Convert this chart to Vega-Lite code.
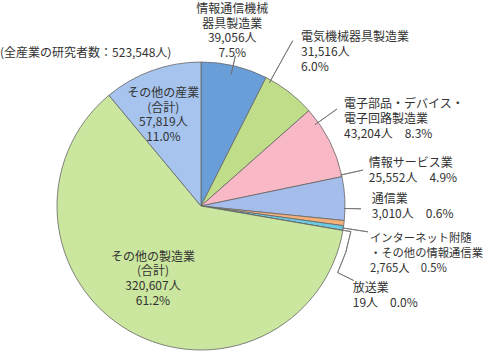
{
  "$schema": "https://vega.github.io/schema/vega-lite/v6.json",
  "width": 288,
  "height": 288,
  "autosize": {"type": "none"},
  "padding": {"left": 57, "top": 62, "right": 140, "bottom": 3},
  "background": "white",
  "title": {
    "text": "(全産業の研究者数：523,548人)",
    "anchor": "start",
    "frame": "group",
    "dx": -57,
    "dy": 62,
    "offset": 0,
    "baseline": "middle",
    "font": "Noto Sans CJK JP",
    "fontSize": 12,
    "fontWeight": "normal",
    "color": "#333333"
  },
  "config": {"view": {"stroke": null}},
  "data": {
    "values": [
      {"order": 0, "cat": "情報通信機械器具製造業", "value": 39056, "label": "情報通信機械\n器具製造業\n39,056人\n7.5%"},
      {"order": 1, "cat": "電気機械器具製造業", "value": 31516, "label": "電気機械器具製造業\n31,516人\n6.0%"},
      {"order": 2, "cat": "電子部品・デバイス・電子回路製造業", "value": 43204, "label": "電子部品・デバイス・\n電子回路製造業\n43,204人　8.3%"},
      {"order": 3, "cat": "情報サービス業", "value": 25552, "label": "情報サービス業\n25,552人　4.9%"},
      {"order": 4, "cat": "通信業", "value": 3010, "label": "通信業\n3,010人　0.6%"},
      {"order": 5, "cat": "インターネット附随・その他の情報通信業", "value": 2765, "label": "インターネット附随\n・その他の情報通信業\n2,765人　0.5%"},
      {"order": 6, "cat": "放送業", "value": 19, "label": "放送業\n19人　0.0%"},
      {"order": 7, "cat": "その他の製造業（合計）", "value": 320607, "label": "その他の製造業\n(合計)\n320,607人\n61.2%"},
      {"order": 8, "cat": "その他の産業（合計）", "value": 57819, "label": "その他の産業\n(合計)\n57,819人\n11.0%"}
    ]
  },
  "transform": [
    {"stack": "value", "groupby": [], "sort": [{"field": "order", "order": "ascending"}], "as": ["v0", "v1"]}
  ],
  "layer": [
    {
      "mark": {"type": "arc", "stroke": "#666666", "strokeWidth": 0.8},
      "encoding": {
        "theta": {"field": "v1", "type": "quantitative", "stack": null},
        "theta2": {"field": "v0"},
        "color": {
          "field": "cat",
          "type": "nominal",
          "legend": null,
          "scale": {
            "domain": ["情報通信機械器具製造業", "電気機械器具製造業", "電子部品・デバイス・電子回路製造業", "情報サービス業", "通信業", "インターネット附随・その他の情報通信業", "放送業", "その他の製造業（合計）", "その他の産業（合計）"],
            "range": ["#6a9ed9", "#c0de8a", "#f8b8c6", "#a5bdeb", "#f5b07a", "#6cc9e2", "#aaaaaa", "#cbe69e", "#a6c4ee"]
          }
        }
      }
    },
    {
      "transform": [{"filter": "datum.order === 0"}],
      "mark": {"type": "arc", "filled": false, "stroke": "#707070", "strokeWidth": 0.8, "radius": 154, "radius2": 135},
      "encoding": {"theta": {"datum": 18760, "type": "quantitative", "stack": null}, "theta2": {"datum": 18760}}
    },
    {
      "transform": [{"filter": "datum.order === 1"}],
      "mark": {"type": "arc", "filled": false, "stroke": "#707070", "strokeWidth": 0.8, "radius": 189, "radius2": 141},
      "encoding": {"theta": {"datum": 42200, "type": "quantitative", "stack": null}, "theta2": {"datum": 42200}}
    },
    {
      "transform": [{"filter": "datum.order === 2"}],
      "mark": {"type": "arc", "filled": false, "stroke": "#707070", "strokeWidth": 0.8, "radius": 167, "radius2": 140},
      "encoding": {"theta": {"datum": 79259, "type": "quantitative", "stack": null}, "theta2": {"datum": 79259}}
    },
    {
      "transform": [{"filter": "datum.order === 3"}],
      "mark": {"type": "arc", "filled": false, "stroke": "#707070", "strokeWidth": 0.8, "radius": 166, "radius2": 143},
      "encoding": {"theta": {"datum": 112708, "type": "quantitative", "stack": null}, "theta2": {"datum": 112708}}
    },
    {
      "transform": [{"filter": "datum.order === 4"}],
      "mark": {"type": "arc", "filled": false, "stroke": "#707070", "strokeWidth": 0.8, "radius": 160, "radius2": 143},
      "encoding": {"theta": {"datum": 132341, "type": "quantitative", "stack": null}, "theta2": {"datum": 132341}}
    },
    {
      "transform": [{"filter": "datum.order === 5"}],
      "mark": {"type": "arc", "filled": false, "stroke": "#707070", "strokeWidth": 0.8, "radius": 169, "radius2": 143},
      "encoding": {"theta": {"datum": 143684, "type": "quantitative", "stack": null}, "theta2": {"datum": 143684}}
    },
    {
      "transform": [{"filter": "datum.order === 6"}],
      "mark": {"type": "arc", "filled": false, "stroke": "#707070", "strokeWidth": 0.8, "radius": 152, "radius2": 144},
      "encoding": {"theta": {"datum": 144993, "type": "quantitative", "stack": null}, "theta2": {"datum": 144993}}
    },
    {
      "transform": [{"filter": "datum.order === 6"}],
      "mark": {"type": "arc", "filled": false, "stroke": "#707070", "strokeWidth": 0.8, "radius": 152, "radius2": 152},
      "encoding": {"theta": {"datum": 144993, "type": "quantitative", "stack": null}, "theta2": {"datum": 168699}}
    },
    {
      "transform": [{"filter": "datum.order === 6"}],
      "mark": {"type": "arc", "filled": false, "stroke": "#707070", "strokeWidth": 0.8, "radius": 170, "radius2": 152},
      "encoding": {"theta": {"datum": 168699, "type": "quantitative", "stack": null}, "theta2": {"datum": 168699}}
    },
    {
      "transform": [{"filter": "datum.order === 0"}],
      "mark": {"type": "text", "radius": 182, "thetaOffset": 0.23436, "dx": -11, "dy": -20, "align": "center", "baseline": "middle", "lineBreak": "\n", "font": "Noto Sans CJK JP", "fontSize": 12, "lineHeight": 14.7, "color": "#333333"},
      "encoding": {"theta": {"field": "v0", "type": "quantitative", "stack": null}, "text": {"field": "label"}}
    },
    {
      "transform": [{"filter": "datum.order === 1"}],
      "mark": {"type": "text", "radius": 193, "thetaOffset": 0.18912, "dx": -18, "dy": -16, "align": "left", "baseline": "middle", "lineBreak": "\n", "font": "Noto Sans CJK JP", "fontSize": 12, "lineHeight": 14.7, "color": "#333333"},
      "encoding": {"theta": {"field": "v0", "type": "quantitative", "stack": null}, "text": {"field": "label"}}
    },
    {
      "transform": [{"filter": "datum.order === 2"}],
      "mark": {"type": "text", "radius": 160, "thetaOffset": 0.25925, "dy": -30, "align": "left", "baseline": "middle", "lineBreak": "\n", "font": "Noto Sans CJK JP", "fontSize": 12, "lineHeight": 14.7, "color": "#333333"},
      "encoding": {"theta": {"field": "v0", "type": "quantitative", "stack": null}, "text": {"field": "label"}}
    },
    {
      "transform": [{"filter": "datum.order === 3"}],
      "mark": {"type": "text", "radius": 168, "thetaOffset": 0.15333, "dy": -34, "align": "left", "baseline": "middle", "lineBreak": "\n", "font": "Noto Sans CJK JP", "fontSize": 12, "lineHeight": 14.7, "color": "#333333"},
      "encoding": {"theta": {"field": "v0", "type": "quantitative", "stack": null}, "text": {"field": "label"}}
    },
    {
      "transform": [{"filter": "datum.order === 4"}],
      "mark": {"type": "text", "radius": 172, "thetaOffset": 0.018062, "dy": -27, "align": "left", "baseline": "middle", "lineBreak": "\n", "font": "Noto Sans CJK JP", "fontSize": 12, "lineHeight": 14.7, "color": "#333333"},
      "encoding": {"theta": {"field": "v0", "type": "quantitative", "stack": null}, "text": {"field": "label"}}
    },
    {
      "transform": [{"filter": "datum.order === 5"}],
      "mark": {"type": "text", "radius": 172, "thetaOffset": 0.016592, "dx": -1, "dy": 7, "align": "left", "baseline": "middle", "lineBreak": "\n", "font": "Noto Sans CJK JP", "fontSize": 11.3, "lineHeight": 14.7, "color": "#333333"},
      "encoding": {"theta": {"field": "v0", "type": "quantitative", "stack": null}, "text": {"field": "label"}}
    },
    {
      "transform": [{"filter": "datum.order === 6"}],
      "mark": {"type": "text", "radius": 154, "dy": 56, "align": "left", "baseline": "middle", "lineBreak": "\n", "font": "Noto Sans CJK JP", "fontSize": 12, "lineHeight": 14.7, "color": "#333333"},
      "encoding": {"theta": {"field": "v0", "type": "quantitative", "stack": null}, "text": {"field": "label"}}
    },
    {
      "transform": [{"filter": "datum.order === 7"}],
      "mark": {"type": "text", "radius": 78, "thetaOffset": 1.92386, "dx": -9, "dy": -17, "align": "center", "baseline": "middle", "lineBreak": "\n", "font": "Noto Sans CJK JP", "fontSize": 12, "lineHeight": 14.7, "color": "#333333"},
      "encoding": {"theta": {"field": "v0", "type": "quantitative", "stack": null}, "text": {"field": "label"}}
    },
    {
      "transform": [{"filter": "datum.order === 8"}],
      "mark": {"type": "text", "radius": 99, "thetaOffset": 0.34695, "dx": -4, "dy": -20, "align": "center", "baseline": "middle", "lineBreak": "\n", "font": "Noto Sans CJK JP", "fontSize": 12, "lineHeight": 14.7, "color": "#333333"},
      "encoding": {"theta": {"field": "v0", "type": "quantitative", "stack": null}, "text": {"field": "label"}}
    }
  ]
}
